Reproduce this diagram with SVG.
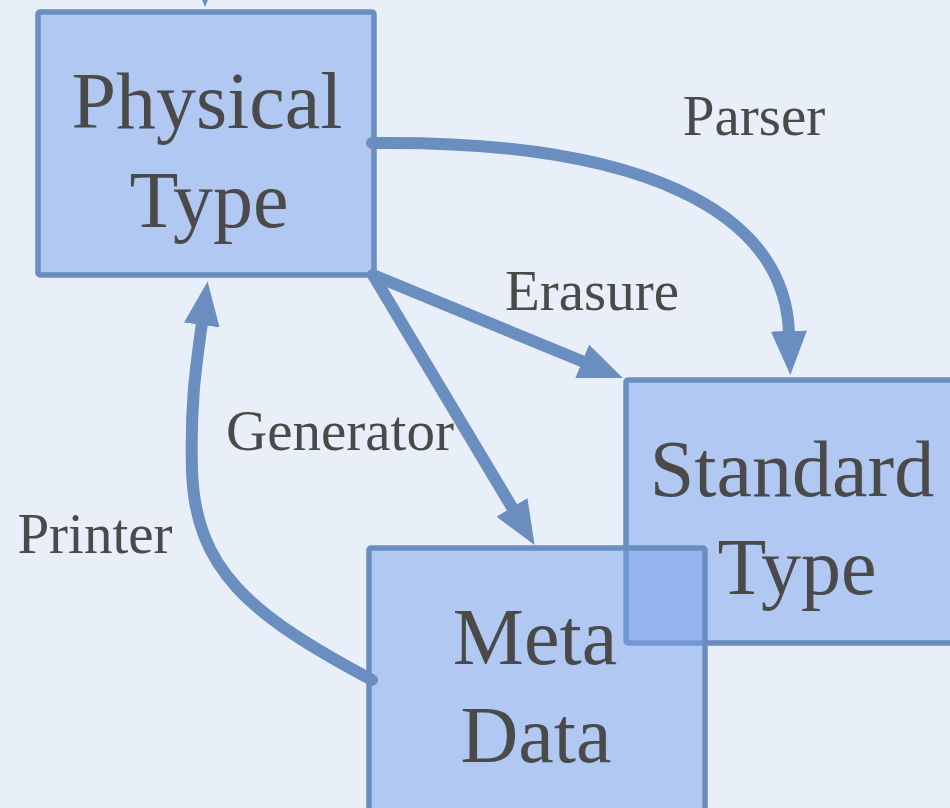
<svg xmlns="http://www.w3.org/2000/svg" width="950" height="808" viewBox="0 0 950 808">
  <style>
    .box { fill: #78a2eb; fill-opacity: 0.5; stroke: #6b8ec0; stroke-width: 5.5; }
    .edge { fill: none; stroke: #6b8ec0; stroke-width: 12; stroke-linecap: round; }
    .title { font-family: "Liberation Serif", "DejaVu Serif", serif; font-size: 80px; fill: #4a4a4a; text-anchor: middle; }
    .label { font-family: "Liberation Serif", "DejaVu Serif", serif; font-size: 57px; fill: #4a4a4a; text-anchor: middle; }
  </style>
  <defs>
    <marker id="head" viewBox="0 0 44 36" refX="2" refY="18" markerWidth="44" markerHeight="36" markerUnits="userSpaceOnUse" orient="auto">
      <path d="M0,0 L44,18 L0,36 z" fill="#6b8ec0"/>
    </marker>
  </defs>

  <rect width="950" height="808" fill="#e8eff8"/>

  <g id="standard-type">
    <rect class="box" x="626" y="380" width="400" height="263" rx="2"/>
    <text class="title" x="792" y="496">Standard</text>
    <text class="title" x="797" y="594">Type</text>
  </g>

  <g id="meta-data">
    <rect class="box" x="369" y="548" width="336" height="300" rx="2"/>
    <text class="title" x="535" y="664">Meta</text>
    <text class="title" x="536" y="762">Data</text>
  </g>

  <g id="physical-type">
    <rect class="box" x="38" y="12" width="336" height="263" rx="2"/>
    <text class="title" x="207" y="128">Physical</text>
    <text class="title" x="209" y="227">Type</text>
  </g>

  <g id="connectors">
    <!-- incoming from above -->
    <path class="edge" d="M205,-80 L205,-35" marker-end="url(#head)"/>
    <!-- Parser -->
    <path class="edge" d="M372,143 C640,140 785,210 789,333" marker-end="url(#head)"/>
    <!-- Erasure -->
    <path class="edge" d="M373,275 L584,362" marker-end="url(#head)"/>
    <!-- Generator -->
    <path class="edge" d="M373,275 L513,509" marker-end="url(#head)"/>
    <!-- Printer -->
    <path class="edge" d="M372,680 C250,615 195,570 192,470 C190,400 197,360 202,323" marker-end="url(#head)"/>
  </g>

  <g id="labels">
    <text class="label" x="754" y="135">Parser</text>
    <text class="label" x="592" y="310">Erasure</text>
    <text class="label" x="340" y="450">Generator</text>
    <text class="label" x="95" y="553">Printer</text>
  </g>
</svg>
